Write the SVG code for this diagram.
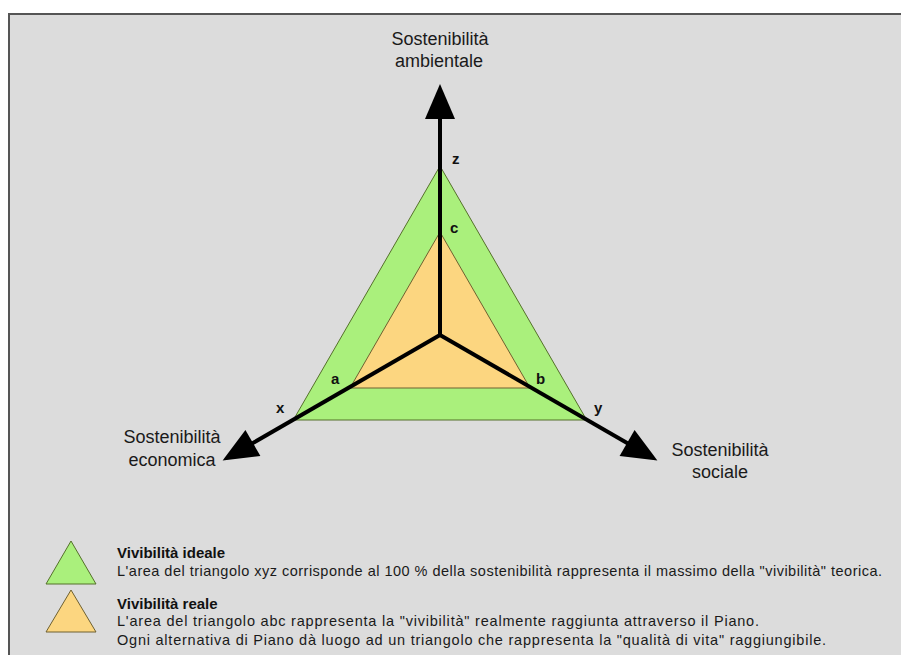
<svg xmlns="http://www.w3.org/2000/svg" xmlns:xlink="http://www.w3.org/1999/xlink" width="901" height="655" viewBox="0 0 901 655">
  <style>
    .lbl { font-family: "Liberation Sans", Arial, sans-serif; font-size: 18px; fill: #1a1a1a; text-anchor: middle; }
    .pt { font-family: "Liberation Sans", Arial, sans-serif; font-size: 15px; font-weight: bold; fill: #111; }
    .lg { font-family: "Liberation Sans", Arial, sans-serif; font-size: 14.5px; fill: #1a1a1a; }
    .lgb { font-family: "Liberation Sans", Arial, sans-serif; font-size: 15px; font-weight: bold; fill: #111; }
    .axis { stroke: #000; stroke-width: 4; fill: none; }
    .green { fill: #aaf07c; stroke: #55702a; stroke-width: 1; }
    .orange { fill: #fcd680; stroke: #6e6030; stroke-width: 1; }
  </style>
  <defs>
    <!-- arrowhead pointing up, tip at origin -->
    <polygon id="head" points="0,0 -15,35 15,35" fill="#000"/>
  </defs>

  <rect width="901" height="655" fill="#ffffff"/>
  <!-- panel -->
  <rect x="9" y="14" width="920" height="660" fill="#dcdcdc" stroke="#555" stroke-width="2"/>

  <!-- triangles -->
  <g id="ideal-triangle">
    <polygon class="green" points="440,166 293.3,420 586.7,420"/>
  </g>
  <g id="real-triangle">
    <polygon class="orange" points="440,232 350,388 530,388"/>
  </g>

  <!-- axes -->
  <g id="connectors">
    <line class="axis" x1="440" y1="336" x2="440" y2="116"/>
    <line class="axis" x1="440" y1="335" x2="250.3" y2="444.5"/>
    <line class="axis" x1="440" y1="335" x2="629.7" y2="444.5"/>
    <use xlink:href="#head" transform="translate(440,84)"/>
    <use xlink:href="#head" transform="translate(222.6,460.5) rotate(-120)"/>
    <use xlink:href="#head" transform="translate(657.4,460.5) rotate(120)"/>
  </g>

  <!-- vertex labels -->
  <g id="vertex-labels">
    <text class="pt" x="452" y="164">z</text>
    <text class="pt" x="450" y="233">c</text>
    <text class="pt" x="331" y="384">a</text>
    <text class="pt" x="536" y="384">b</text>
    <text class="pt" x="276" y="413">x</text>
    <text class="pt" x="594" y="413">y</text>
  </g>

  <!-- axis titles -->
  <g id="axis-environmental">
    <text class="lbl" x="440" y="45">Sostenibilità</text>
    <text class="lbl" x="439" y="67">ambientale</text>
  </g>
  <g id="axis-economic">
    <text class="lbl" x="172" y="443">Sostenibilità</text>
    <text class="lbl" x="172" y="466">economica</text>
  </g>
  <g id="axis-social">
    <text class="lbl" x="720" y="456">Sostenibilità</text>
    <text class="lbl" x="720" y="478">sociale</text>
  </g>

  <!-- legend -->
  <g id="legend-ideal">
    <polygon class="green" points="71,541 46,584 96,584"/>
    <text class="lgb" x="117" y="558">Vivibilità ideale</text>
    <text class="lg" x="117" y="576" textLength="765" lengthAdjust="spacing">L'area del triangolo xyz corrisponde al 100 % della sostenibilità rappresenta il massimo della "vivibilità" teorica.</text>
  </g>
  <g id="legend-real">
    <polygon class="orange" points="71,590 46,632 96,632"/>
    <text class="lgb" x="117" y="609">Vivibilità reale</text>
    <text class="lg" x="117" y="626" textLength="642" lengthAdjust="spacing">L'area del triangolo abc rappresenta la "vivibilità" realmente raggiunta attraverso il Piano.</text>
    <text class="lg" x="117" y="645" textLength="709" lengthAdjust="spacing">Ogni alternativa di Piano dà luogo ad un triangolo che rappresenta la "qualità di vita" raggiungibile.</text>
  </g>
</svg>
